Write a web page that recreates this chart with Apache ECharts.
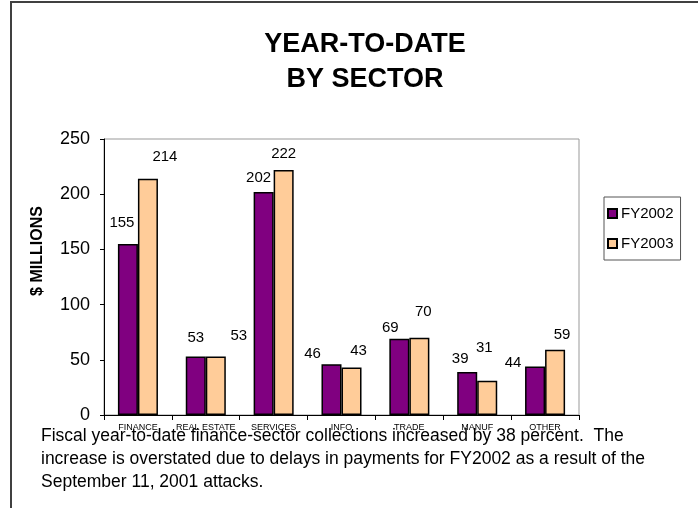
<!DOCTYPE html>
<html>
<head>
<meta charset="utf-8">
<script src="https://cdn.jsdelivr.net/npm/echarts@6/dist/echarts.min.js"></script>
<style>
  html, body { margin: 0; padding: 0; background: #fff; }
  #chart { width: 698px; height: 508px; }
</style>
</head>
<body>
<div id="chart"></div>
<script>
var sectors = ['FINANCE', 'REAL ESTATE', 'SERVICES', 'INFO', 'TRADE', 'MANUF', 'OTHER'];
var fy2002 = [155, 53, 202, 46, 69, 39, 44];
var fy2003 = [214, 53, 222, 43, 70, 31, 59];
var yTicks = { min: 0, max: 250, interval: 50 };
var captionLines = [
    'Fiscal year-to-date finance-sector collections increased by 38 percent.  The',
    'increase is overstated due to delays in payments for FY2002 as a result of the',
    'September 11, 2001 attacks.'
];

// label nudges (the original labels are placed a bit irregularly)
var shift2002 = [[-6, -14], [0, -11], [-5, -7], [-19, -3], [-9, -3], [-7, -6], [-22, 4]];
var shift2003 = [[17, -14], [23, -13], [0, -9], [7, -9], [4, -18], [-3, -25], [7, -8]];

var FONT = '"Liberation Sans", Arial, sans-serif';

function withLabels(values, shifts) {
    return values.map(function (v, i) {
        return { value: v, label: { offset: shifts[i] } };
    });
}

var chart = echarts.init(document.getElementById('chart'));

var labelStyle = {
    show: true,
    position: 'top',
    distance: 0,
    color: '#000',
    fontFamily: FONT,
    fontSize: 15
};

var option = {
    animation: false,
    textStyle: { fontFamily: FONT },
    title: {
        text: 'YEAR-TO-DATE\nBY SECTOR',
        left: 360,
        textAlign: 'center',
        top: 22,
        textStyle: {
            fontFamily: FONT,
            fontSize: 27,
            fontWeight: 'bold',
            color: '#000',
            lineHeight: 35
        }
    },
    legend: {
        orient: 'vertical',
        left: 604,
        top: 197,
        padding: [9, 7, 9, 3],
        itemGap: 15,
        itemWidth: 9,
        itemHeight: 9,
        icon: 'rect',
        borderColor: '#555',
        borderWidth: 1,
        textStyle: { fontFamily: FONT, fontSize: 15, color: '#000', padding: [0, 0, 0, -1] },
        data: ['FY2002', 'FY2003']
    },
    grid: {
        left: 104,
        right: 119,
        top: 139,
        bottom: 93,
        show: true,
        borderColor: '#999',
        borderWidth: 1
    },
    xAxis: {
        type: 'category',
        data: sectors,
        axisLine: { lineStyle: { color: '#000', width: 1 } },
        axisTick: { show: true, length: 5, lineStyle: { color: '#000' } },
        axisLabel: { color: '#000', fontSize: 9, margin: 8, interval: 0, fontFamily: FONT }
    },
    yAxis: {
        type: 'value',
        min: yTicks.min,
        max: yTicks.max,
        interval: yTicks.interval,
        axisLine: { show: true, lineStyle: { color: '#000', width: 1 } },
        axisTick: { show: true, length: 4, lineStyle: { color: '#000' } },
        splitLine: { show: false },
        axisLabel: { color: '#000', fontSize: 18, margin: 14, fontFamily: FONT }
    },
    series: [{
        name: 'FY2002',
        type: 'bar',
        barGap: 0,
        barCategoryGap: '41%',
        itemStyle: { color: '#800080', borderColor: '#000', borderWidth: 1.5 },
        label: labelStyle,
        data: withLabels(fy2002, shift2002)
    }, {
        name: 'FY2003',
        type: 'bar',
        barGap: 0,
        barCategoryGap: '41%',
        itemStyle: { color: '#FFCC99', borderColor: '#000', borderWidth: 1.5 },
        label: labelStyle,
        data: withLabels(fy2003, shift2003)
    }],
    graphic: [
        // outer frame (only top and left edges visible in the crop)
        { type: 'line', shape: { x1: 11, y1: 2, x2: 698, y2: 2 }, style: { stroke: '#404040', lineWidth: 2 } },
        { type: 'line', shape: { x1: 11, y1: 1, x2: 11, y2: 508 }, style: { stroke: '#404040', lineWidth: 2 } },
        {
            type: 'text',
            x: 38,
            y: 251,
            rotation: Math.PI / 2,
            style: {
                text: '$ MILLIONS',
                fill: '#000',
                font: 'bold 16px ' + FONT,
                textAlign: 'center',
                textVerticalAlign: 'middle'
            }
        },
        {
            type: 'text',
            left: 41,
            top: 425,
            style: {
                text: captionLines.join('\n'),
                fill: '#000',
                font: '17.5px ' + FONT,
                lineHeight: 23
            }
        }
    ]
};

chart.setOption(option);
</script>
</body>
</html>
